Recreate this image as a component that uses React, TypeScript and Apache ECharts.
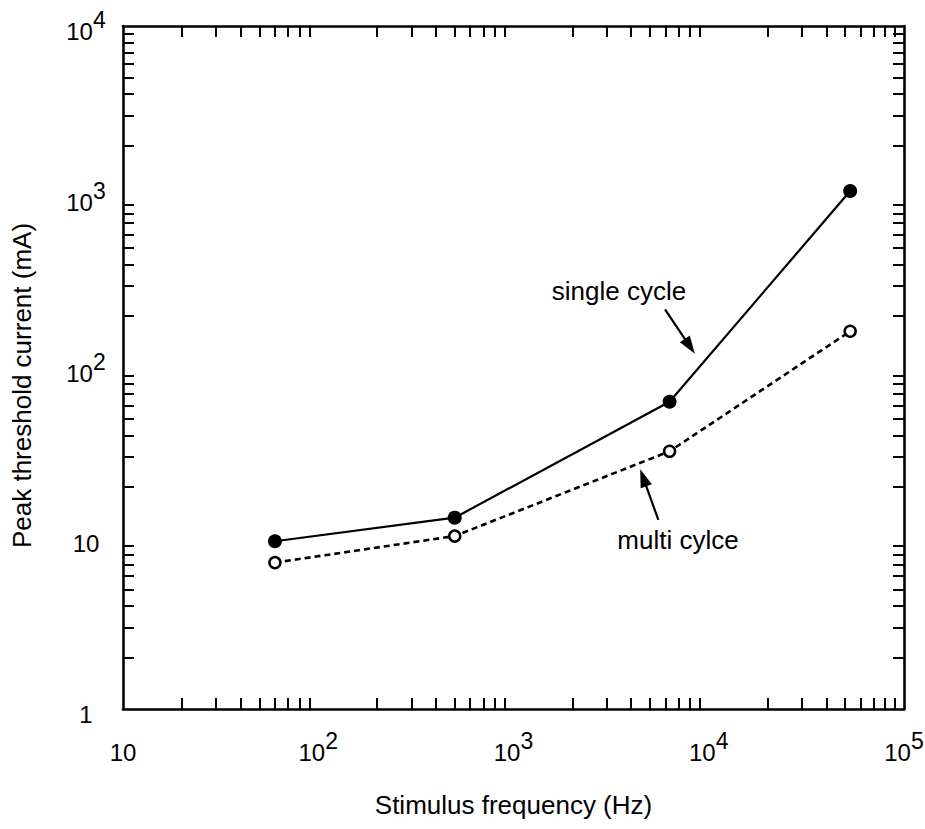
import React, { useEffect, useRef } from "react";
import * as echarts from "echarts";

const FONT = '"Liberation Sans", Arial, Helvetica, sans-serif';

// Data
const freqHz = [60, 500, 6300, 53000];
const singleCycle = [9.6, 13.2, 63, 1080];
const multiCycle = [7.2, 10.3, 32.3, 163];

// Axis decades (exponents of 10) and minor tick multipliers
const xDecadeExponents = [1, 2, 3, 4, 5];
const yDecadeExponents = [0, 1, 2, 3, 4];
const minorMultipliers = [2, 3, 4, 5, 6, 7, 8, 9];

// Annotation arrows [from, to] in data units (Hz, mA)
const singleArrow = [[5970, 219], [8000, 133]];
const multiArrow = [[5520, 12.8], [4620, 22.6]];

const lg = (v: number) => Math.log10(v);

function minorTickValues(exps: number[]) {
  const out: number[] = [];
  for (let i = 0; i < exps.length - 1; i++) {
    for (const m of minorMultipliers) out.push(exps[i] + lg(m));
  }
  return out;
}

const labelFormatter = (v: number) => {
  const n = Math.round(v);
  if (n === 0) return "{b|1}";
  if (n === 1) return "{b|10}";
  return `{b|10}{s|${n}}`;
};

const rich = {
  b: {
    fontSize: 24,
    fontFamily: FONT,
    color: "#000",
    lineHeight: 35,
    verticalAlign: "bottom",
  },
  s: {
    fontSize: 23,
    fontFamily: FONT,
    color: "#000",
    lineHeight: 23,
    verticalAlign: "top",
  },
};

export default function App() {
  const ref = useRef<HTMLDivElement>(null);

  useEffect(() => {
    if (!ref.current) return;
    const chart = echarts.init(ref.current, undefined, { renderer: "svg" });

    const xMin = xDecadeExponents[0];
    const xMax = xDecadeExponents[xDecadeExponents.length - 1];
    const yMin = yDecadeExponents[0];
    const yMax = yDecadeExponents[yDecadeExponents.length - 1];
    const xMinor = minorTickValues(xDecadeExponents);
    const yMinor = minorTickValues(yDecadeExponents);

    const axisLine = { show: true, onZero: false, lineStyle: { color: "#000", width: 2.6 } };
    const tick = (vals: number[]) => ({
      show: true,
      inside: true,
      length: 11,
      customValues: vals,
      lineStyle: { color: "#000", width: 2 },
    });

    const arrowMarkLine = (arrow: number[][]) => ({
      silent: true,
      symbol: ["none", "triangle"],
      symbolSize: [12, 18],
      label: { show: false },
      lineStyle: { color: "#000", width: 2.2, type: "solid" },
      data: [
        [
          { coord: [lg(arrow[0][0]), lg(arrow[0][1])] },
          { coord: [lg(arrow[1][0]), lg(arrow[1][1])] },
        ],
      ],
    });

    const option: any = {
      animation: false,
      backgroundColor: "#fff",
      grid: {
        left: 123,
        right: 21,
        top: 26,
        bottom: 120,
        containLabel: false,
        outerBoundsMode: "none",
      },
      xAxis: [
        {
          type: "value",
          position: "bottom",
          min: xMin,
          max: xMax,
          interval: 1,
          axisLine,
          axisTick: tick(xMinor),
          splitLine: { show: false },
          axisLabel: {
            show: true,
            margin: 20,
            formatter: labelFormatter,
            rich,
            fontSize: 24,
            fontFamily: FONT,
            color: "#000",
          },
          name: "Stimulus frequency (Hz)",
          nameLocation: "middle",
          nameGap: 83,
          nameTextStyle: { fontSize: 26, fontFamily: FONT, color: "#000" },
        },
        {
          type: "value",
          position: "top",
          min: xMin,
          max: xMax,
          interval: 1,
          axisLine,
          axisTick: tick(xMinor),
          splitLine: { show: false },
          axisLabel: { show: false },
        },
      ],
      yAxis: [
        {
          type: "value",
          position: "left",
          min: yMin,
          max: yMax,
          interval: 1,
          axisLine,
          axisTick: tick(yMinor),
          splitLine: { show: false },
          axisLabel: {
            show: true,
            margin: 37,
            align: "center",
            formatter: labelFormatter,
            rich,
            fontSize: 24,
            fontFamily: FONT,
            color: "#000",
          },
          name: "Peak threshold current (mA)",
          nameLocation: "middle",
          nameRotate: 90,
          nameGap: 88,
          nameTextStyle: {
            fontSize: 26,
            fontFamily: FONT,
            color: "#000",
            padding: [0, 36, 0, 0],
          },
        },
        {
          type: "value",
          position: "right",
          min: yMin,
          max: yMax,
          interval: 1,
          axisLine,
          axisTick: tick(yMinor),
          splitLine: { show: false },
          axisLabel: { show: false },
        },
      ],
      series: [
        {
          name: "multi cycle",
          type: "line",
          xAxisIndex: 0,
          yAxisIndex: 0,
          data: freqHz.map((f, i) => [lg(f), lg(multiCycle[i])]),
          symbol: "circle",
          symbolSize: 11,
          itemStyle: { color: "#fff", borderColor: "#000", borderWidth: 2.5 },
          lineStyle: { color: "#000", width: 2.6, type: [6, 4] },
          z: 3,
          markLine: arrowMarkLine(multiArrow),
        },
        {
          name: "single cycle",
          type: "line",
          xAxisIndex: 0,
          yAxisIndex: 0,
          data: freqHz.map((f, i) => [lg(f), lg(singleCycle[i])]),
          symbol: "circle",
          symbolSize: 14,
          itemStyle: { color: "#000" },
          lineStyle: { color: "#000", width: 2.2 },
          z: 4,
          markLine: arrowMarkLine(singleArrow),
        },
      ],
      graphic: [
        {
          type: "text",
          x: 619,
          y: 291,
          style: {
            text: "single cycle",
            fill: "#000",
            fontSize: 26,
            fontFamily: FONT,
            align: "center",
            verticalAlign: "middle",
          },
        },
        {
          type: "text",
          x: 678,
          y: 540,
          style: {
            text: "multi cylce",
            fill: "#000",
            fontSize: 26,
            fontFamily: FONT,
            align: "center",
            verticalAlign: "middle",
          },
        },
      ],
    };

    chart.setOption(option);
    return () => chart.dispose();
  }, []);

  return (
    <div
      ref={ref}
      style={{ position: "absolute", left: 0, top: 0, width: 925, height: 829, background: "#fff" }}
    />
  );
}
